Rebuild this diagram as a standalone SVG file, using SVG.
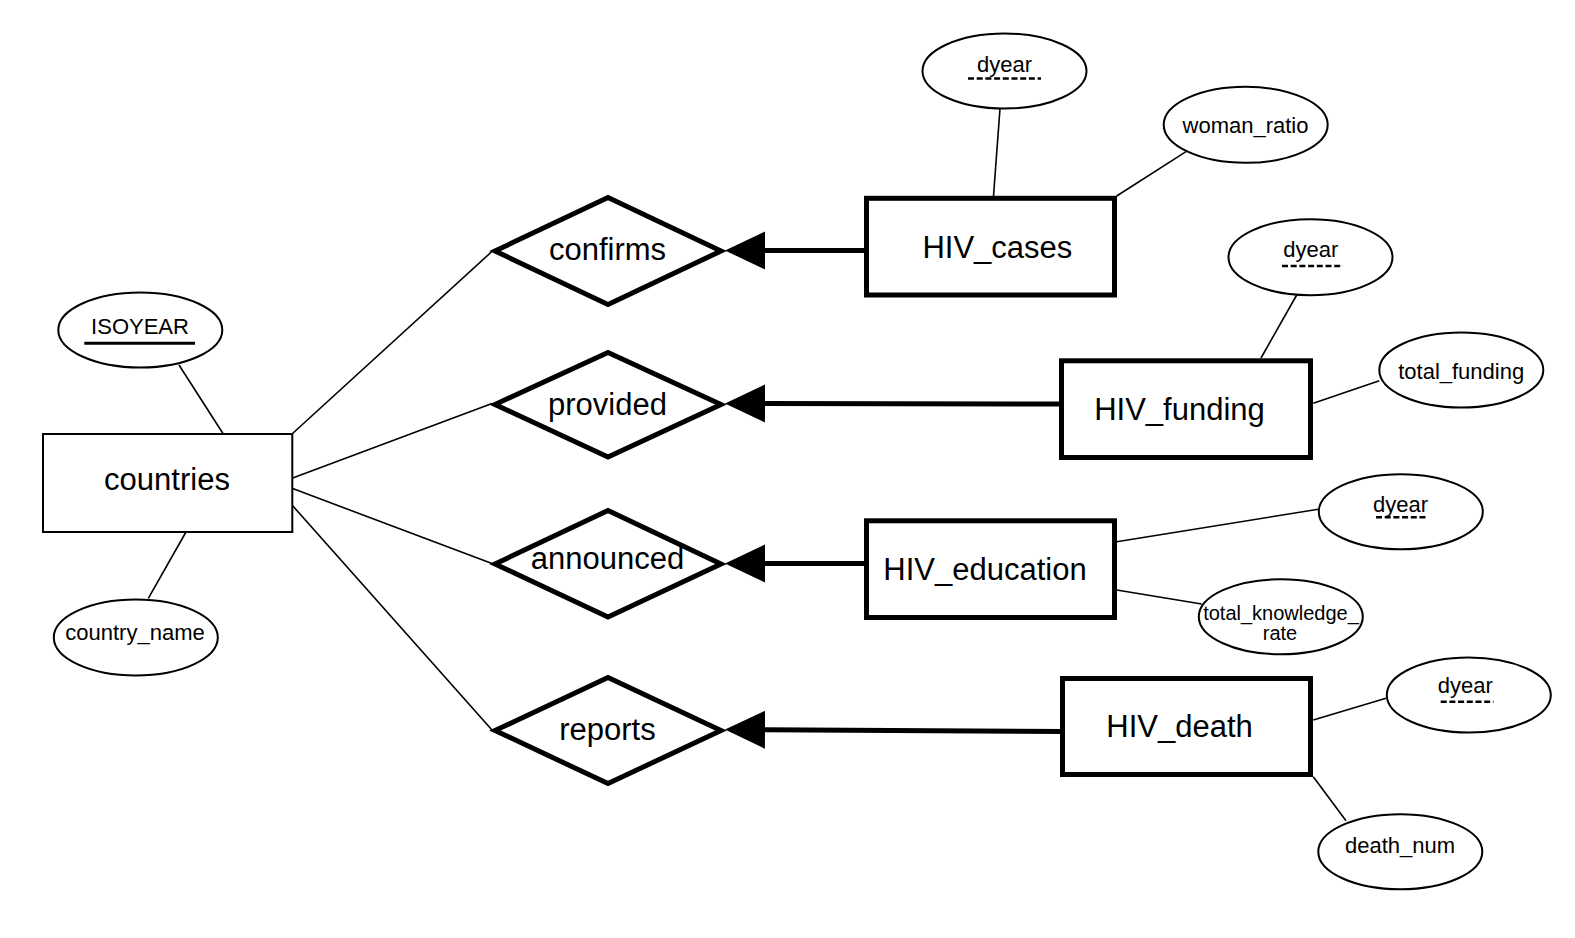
<svg xmlns="http://www.w3.org/2000/svg" width="1575" height="938" viewBox="0 0 1575 938">
<style>
  text { font-family: "Liberation Sans", Arial, Helvetica, sans-serif; fill: #000; text-anchor: middle; }
  .big { font-size: 31px; }
  .attr { font-size: 22px; }
  .small { font-size: 20px; }
  .entity { fill: #fff; stroke: #000; stroke-width: 5; stroke-linejoin: miter; }
  .strong { fill: #fff; stroke: #000; stroke-width: 2; }
  .rel { fill: #fff; stroke: #000; stroke-width: 5; stroke-linejoin: miter; }
  .ell { fill: #fff; stroke: #000; stroke-width: 2; }
  .thin { stroke: #000; stroke-width: 1.6; fill: none; }
  .thick { stroke: #000; stroke-width: 5; fill: none; }
  .key { stroke: #000; stroke-width: 3; }
  .partial { stroke: #000; stroke-width: 2.6; stroke-dasharray: 6 2.7; }
</style>
<defs>
  <marker id="arrow" markerUnits="userSpaceOnUse" markerWidth="42" markerHeight="42" viewBox="0 0 42 42" refX="0" refY="20" orient="auto">
    <path d="M0,1 L40,20 L0,39 z" fill="#000"/>
  </marker>
</defs>
<rect width="1575" height="938" fill="#fff"/>

<g id="connectors">
  <line class="thin" x1="179" y1="365" x2="223.3" y2="434"/>
  <line class="thin" x1="186" y1="532" x2="148.3" y2="598.3"/>
  <line class="thin" x1="292" y1="434" x2="493" y2="250.5"/>
  <line class="thin" x1="292" y1="478.3" x2="492" y2="403.5"/>
  <line class="thin" x1="292" y1="488.3" x2="492" y2="563.5"/>
  <line class="thin" x1="292" y1="505" x2="492" y2="730"/>
  <line class="thin" x1="1000" y1="108.5" x2="993.5" y2="196"/>
  <line class="thin" x1="1116.7" y1="196" x2="1186" y2="151.7"/>
  <line class="thin" x1="1296.7" y1="295" x2="1261" y2="358"/>
  <line class="thin" x1="1313.3" y1="403.3" x2="1379.3" y2="380.7"/>
  <line class="thin" x1="1116.7" y1="541.7" x2="1318.3" y2="509.3"/>
  <line class="thin" x1="1116.7" y1="590" x2="1201.7" y2="604"/>
  <line class="thin" x1="1313.3" y1="720" x2="1386" y2="698.3"/>
  <line class="thin" x1="1313.3" y1="776.7" x2="1346" y2="820.7"/>
  <line class="thick" x1="866.5" y1="250.5" x2="765" y2="250.5" marker-end="url(#arrow)"/>
  <line class="thick" x1="1061.5" y1="404" x2="765" y2="403.5" marker-end="url(#arrow)"/>
  <line class="thick" x1="866.5" y1="563.5" x2="765" y2="563.5" marker-end="url(#arrow)"/>
  <line class="thick" x1="1062.5" y1="731.5" x2="765" y2="729.8" marker-end="url(#arrow)"/>
</g>

<g id="countries">
  <rect class="strong" x="43" y="434" width="249.3" height="98"/>
  <text class="big" x="167" y="489.5">countries</text>
</g>
<g id="ISOYEAR">
  <ellipse class="ell" cx="140.3" cy="330" rx="82" ry="37.5"/>
  <text class="attr" x="140" y="334">ISOYEAR</text>
  <line class="key" x1="84.3" y1="343.3" x2="195" y2="343.3"/>
</g>
<g id="country_name">
  <ellipse class="ell" cx="135.8" cy="637.5" rx="82" ry="38"/>
  <text class="attr" x="135" y="640">country_name</text>
</g>

<g id="confirms">
  <polygon class="rel" points="495,251 608,197.5 721,251 608,304.5"/>
  <text class="big" x="607.5" y="260">confirms</text>
</g>
<g id="provided">
  <polygon class="rel" points="495,404.5 608,352.5 721,404.5 608,457"/>
  <text class="big" x="607.5" y="414.5">provided</text>
</g>
<g id="announced">
  <polygon class="rel" points="495,564 608,510.5 721,564 608,617">
  </polygon>
  <text class="big" x="607.5" y="569.3">announced</text>
</g>
<g id="reports">
  <polygon class="rel" points="495,730.5 608,677.5 721,730.5 608,783.5"/>
  <text class="big" x="607.5" y="740">reports</text>
</g>

<g id="HIV_cases">
  <rect class="entity" x="866.5" y="198.3" width="248" height="96.7"/>
  <text class="big" x="997.4" y="258.3">HIV_cases</text>
</g>
<g id="HIV_funding">
  <rect class="entity" x="1061.5" y="360.8" width="249" height="96.7"/>
  <text class="big" x="1179.5" y="420">HIV_funding</text>
</g>
<g id="HIV_education">
  <rect class="entity" x="866.5" y="520.8" width="248" height="96.7"/>
  <text class="big" x="985" y="580">HIV_education</text>
</g>
<g id="HIV_death">
  <rect class="entity" x="1062.5" y="678.5" width="248" height="96"/>
  <text class="big" x="1179.5" y="736.7">HIV_death</text>
</g>

<g id="dyear_cases">
  <ellipse class="ell" cx="1004.5" cy="71" rx="82" ry="37.5"/>
  <text class="attr" x="1004.5" y="71.7">dyear</text>
  <line class="partial" x1="968" y1="78.5" x2="1041" y2="78.5"/>
</g>
<g id="woman_ratio">
  <ellipse class="ell" cx="1245.7" cy="124.8" rx="82" ry="38"/>
  <text class="attr" x="1245.5" y="132.7">woman_ratio</text>
</g>
<g id="dyear_funding">
  <ellipse class="ell" cx="1310.5" cy="257.2" rx="82" ry="38"/>
  <text class="attr" x="1310.7" y="256.7">dyear</text>
  <line class="partial" x1="1282" y1="266" x2="1343" y2="266"/>
</g>
<g id="total_funding">
  <ellipse class="ell" cx="1461.3" cy="370" rx="82" ry="37.5"/>
  <text class="attr" x="1461.2" y="379.3">total_funding</text>
</g>
<g id="dyear_education">
  <ellipse class="ell" cx="1400.8" cy="511.7" rx="82" ry="37.5"/>
  <text class="attr" x="1400.5" y="511.7">dyear</text>
  <line class="partial" x1="1376" y1="517.3" x2="1427" y2="517.3"/>
</g>
<g id="total_knowledge_rate">
  <ellipse class="ell" cx="1280.8" cy="616.7" rx="82" ry="37.5"/>
  <text class="small" x="1281" y="620">total_knowledge_</text>
  <text class="small" x="1280" y="640">rate</text>
</g>
<g id="dyear_death">
  <ellipse class="ell" cx="1468.8" cy="695" rx="82" ry="37.5"/>
  <text class="attr" x="1465.3" y="693.3">dyear</text>
  <line class="partial" x1="1440.7" y1="701.7" x2="1493.5" y2="701.7"/>
</g>
<g id="death_num">
  <ellipse class="ell" cx="1400.3" cy="851.7" rx="82" ry="37.5"/>
  <text class="attr" x="1400" y="853.3">death_num</text>
</g>
</svg>
